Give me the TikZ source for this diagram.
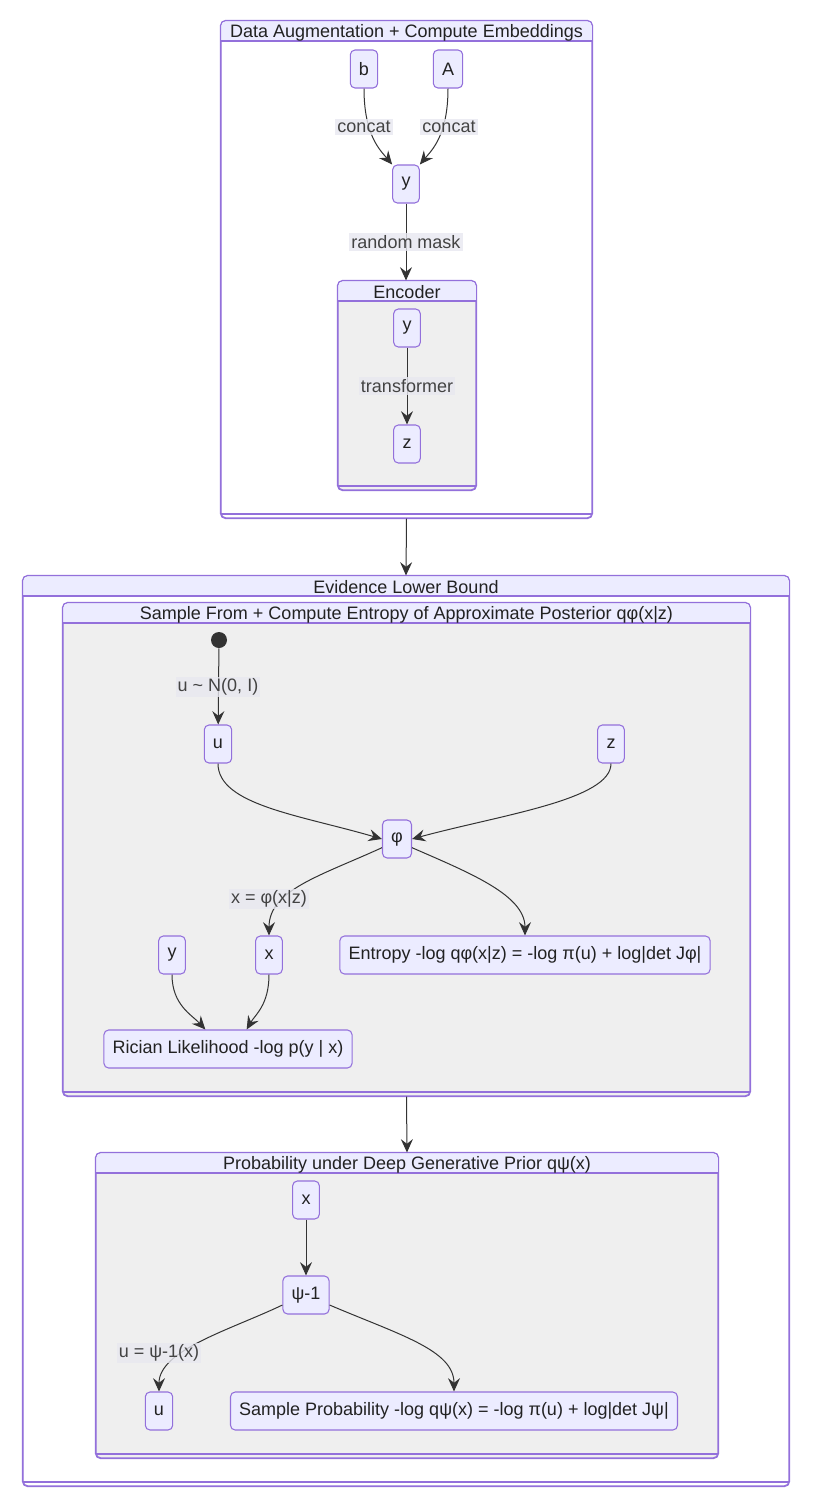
\documentclass[tikz,border=0pt]{standalone}
\usepackage{fontspec}
\setmainfont{Liberation Sans}
\usetikzlibrary{arrows.meta, fit}

\definecolor{nodefill}{HTML}{ECECFF}
\definecolor{border}{HTML}{9370DB}
\definecolor{innerfill}{HTML}{EFEFEF}
\definecolor{edgecol}{HTML}{333333}
\definecolor{labelbg}{HTML}{E8E8F0}
\definecolor{textcol}{HTML}{222222}

\tikzset{
	statebox/.style={draw=border, fill=nodefill, line width=0.8pt, rounded corners=3.5pt,
		minimum width=20pt, minimum height=28.5pt, inner xsep=6.5pt, text=textcol,
		font=\fontsize{13.5}{16}\selectfont},
	edge/.style={draw=edgecol, line width=0.75pt, -{Stealth[length=10pt, width=9pt, inset=3.5pt]}},
	edgelabel/.style={fill=labelbg, fill opacity=0.8, text opacity=1, inner sep=1.5pt,
		text=textcol!85, font=\fontsize{13.5}{16}\selectfont},
	clusterbox/.style={draw=border, line width=0.8pt, rounded corners=3.75pt, inner sep=0pt},
	clustertitle/.style={text=textcol, inner sep=0pt, font=\fontsize{13.5}{16}\selectfont},
	startdot/.style={circle, fill=edgecol, minimum size=12pt, inner sep=0pt}
}

% name, x1, y1, x2, y2, fill, title
\newcommand{\drawcluster}[7]{%
	\node[clusterbox, fill=#6, fit={(#2,#3) (#4,#5)}] (#1) {};
	\fill[nodefill, rounded corners=3.75pt] (#2,#3) rectangle (#4,{#3+20});
	\fill[nodefill] (#2,{#3+10}) rectangle (#4,{#3+20});
	\draw[border, line width=0.8pt] (#2,{#3+20}) -- (#4,{#3+20});
	\draw[border, line width=0.8pt] (#2,{#5-4}) -- (#4,{#5-4});
	\draw[clusterbox] (#1.south west) rectangle (#1.north east);
	\node[clustertitle] (#1-title) at ({(#2+#4)/2},{#3+11.5}) {#7};
}

\begin{document}
\begin{tikzpicture}[x=0.75pt, y=-0.75pt]
		\useasboundingbox (0,0) rectangle (818,1510);
		
		% clusters
		\drawcluster{aug}{221}{21}{592}{518}{white}{Data Augmentation + Compute Embeddings}
		\drawcluster{enc}{338}{281}{476}{490}{innerfill}{Encoder}
		\drawcluster{elbo}{23}{576}{789}{1486}{white}{Evidence Lower Bound}
		\drawcluster{post}{63}{603}{750}{1096}{innerfill}{Sample From + Compute Entropy of Approximate Posterior qφ(x|z)}
		\drawcluster{prior}{96}{1153}{718}{1458}{innerfill}{Probability under Deep Generative Prior qψ(x)}
		
		% states
		\node[statebox] (b) at (364,69) {b};
		\node[statebox] (A) at (448,69) {A};
		\node[statebox] (y1) at (406,184) {y};
		\node[statebox] (ey) at (407,328) {y};
		\node[statebox] (ez) at (407,444) {z};
		
		\node[startdot] (init) at (219,640) {};
		\node[statebox] (u) at (218,744) {u};
		\node[statebox] (zz) at (611,744) {z};
		\node[statebox] (phi) at (397,839) {φ};
		\node[statebox] (py) at (172,955) {y};
		\node[statebox] (px) at (269,955) {x};
		\node[statebox] (ent) at (525,955) {Entropy -log qφ(x|z) = -log π(u) + log|det Jφ|};
		\node[statebox] (rician) at (228,1049) {Rician Likelihood -log p(y | x)};
		
		\node[statebox] (qx) at (306,1200) {x};
		\node[statebox] (psi) at (306,1295) {ψ-1};
		\node[statebox] (qu) at (159,1411) {u};
		\node[statebox] (sprob) at (454,1411) {Sample Probability -log qψ(x) = -log π(u) + log|det Jψ|};
		
		% transitions
		\draw[edge] (b.south) .. controls (364,135) and (380,150) .. (y1.north west);
		\draw[edge] (A.south) .. controls (448,135) and (432,150) .. (y1.north east);
		\draw[edge] (y1.south) -- (y1.south |- enc.north);
		\draw[edge] (ey.south) -- (ez.north);
		\draw[edge] (aug.south) -- (elbo.north);
		
		\draw[edge] (init) -- (u);
		\draw[edge] (u.south) .. controls (218,805) and (300,815) .. (phi.west);
		\draw[edge] (zz.south) .. controls (611,800) and (500,815) .. (phi.east);
		\draw[edge] (phi.210) .. controls (320,876) and (269,890) .. (px.north);
		\draw[edge] (phi.-30) .. controls (470,873) and (525,895) .. (ent.north);
		\draw[edge] (py.south) .. controls (172,1005) and (192,1015) .. ([xshift=-17pt]rician.north);
		\draw[edge] (px.south) .. controls (269,1005) and (255,1015) .. ([xshift=14pt]rician.north);
		\draw[edge] (post.south) -- (prior.north);
		
		\draw[edge] (qx) -- (psi);
		\draw[edge] (psi.203) .. controls (230,1330) and (159,1350) .. (qu.north);
		\draw[edge] (psi.-23) .. controls (400,1335) and (454,1350) .. (sprob.north);
		
		% labels
		\node[edgelabel] (l-concat-b) at (364,127) {concat};
		\node[edgelabel] (l-concat-A) at (449,127) {concat};
		\node[edgelabel] (l-mask) at (406,242) {random mask};
		\node[edgelabel] (l-trans) at (407,386) {transformer};
		\node[edgelabel] (l-noise) at (218,687) {u \textasciitilde{} N(0, I)};
		\node[edgelabel] (l-xphi) at (269,899) {x = φ(x|z)};
		\node[edgelabel] (l-upsi) at (159,1353) {u = ψ-1(x)};
	\end{tikzpicture}
\end{document}
